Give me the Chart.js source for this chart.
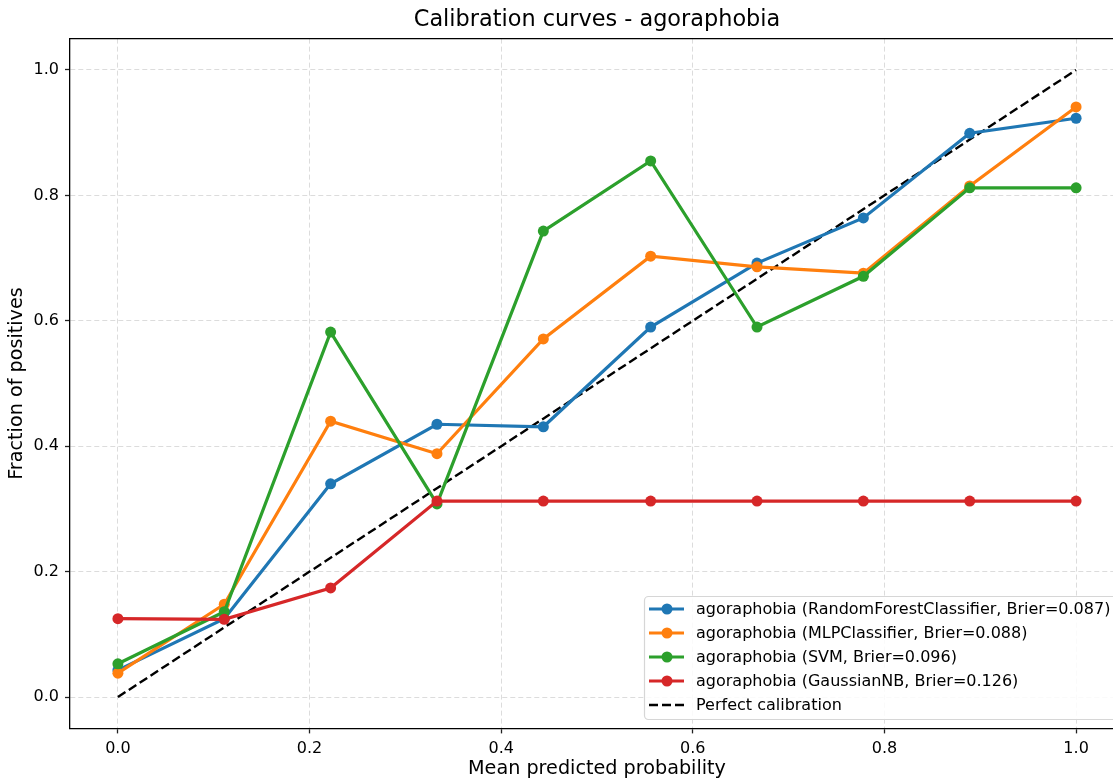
<!DOCTYPE html>
<html>
<head>
<meta charset="utf-8">
<script src="https://cdn.jsdelivr.net/npm/chart.js@4.4.1/dist/chart.umd.min.js"></script>
<style>
    html, body { margin: 0; padding: 0; background: #fff; overflow: hidden; }
    #wrap { position: relative; width: 1113px; height: 781px; overflow: hidden; }
    canvas { position: absolute; left: 0; top: 0; }
</style>
</head>
<body>
<div id="wrap"><canvas id="calChart" width="1180" height="781"></canvas></div>
<script>
// mean predicted probability per bin
const binCenters = [0.0, 0.111, 0.222, 0.333, 0.444, 0.556, 0.667, 0.778, 0.889, 1.0];

// fraction of positives per model
const randomForest = [0.043, 0.125, 0.340, 0.435, 0.431, 0.590, 0.692, 0.764, 0.899, 0.923];
const mlp = [0.038, 0.148, 0.440, 0.388, 0.571, 0.703, 0.686, 0.676, 0.815, 0.941];
const svm = [0.053, 0.136, 0.582, 0.308, 0.743, 0.855, 0.590, 0.671, 0.812, 0.812];
const gaussianNB = [0.125, 0.124, 0.174, 0.3125, 0.3125, 0.3125, 0.3125, 0.3125, 0.3125, 0.3125];

const perfectX = [0.0, 1.0];
const perfectY = [0.0, 1.0];

const xTicks = [0.0, 0.2, 0.4, 0.6, 0.8, 1.0];
const yTicks = [0.0, 0.2, 0.4, 0.6, 0.8, 1.0];

const seriesLabels = [
    'agoraphobia (RandomForestClassifier, Brier=0.087)',
    'agoraphobia (MLPClassifier, Brier=0.088)',
    'agoraphobia (SVM, Brier=0.096)',
    'agoraphobia (GaussianNB, Brier=0.126)',
    'Perfect calibration'
];
const titleText = 'Calibration curves - agoraphobia';

const FONT = '"DejaVu Sans", "Liberation Sans", sans-serif';
const colors = ['#1f77b4', '#ff7f0e', '#2ca02c', '#d62728'];

function pairs(xs, ys) {
    return xs.map((x, i) => ({ x: x, y: ys[i] }));
}

function curve(label, values, color, order) {
    return {
        label: label,
        data: pairs(binCenters, values),
        borderColor: color,
        backgroundColor: color,
        borderWidth: 3.2,
        pointRadius: 5.5,
        pointBorderWidth: 0,
        pointBackgroundColor: color,
        tension: 0,
        order: order
    };
}

// title, top spine and legend box drawn on the canvas
const extras = {
    id: 'extras',
    afterDraw(chart) {
        const ctx = chart.ctx;
        const a = chart.chartArea;
        ctx.save();

        // top spine
        ctx.strokeStyle = '#000';
        ctx.lineWidth = 1.3;
        ctx.beginPath();
        ctx.moveTo(a.left, a.top);
        ctx.lineTo(a.right, a.top);
        ctx.stroke();

        // title
        ctx.fillStyle = '#000';
        ctx.font = '22.4px ' + FONT;
        ctx.textAlign = 'center';
        ctx.textBaseline = 'middle';
        ctx.fillText(titleText, (a.left + a.right) / 2, 20);

        // legend
        const bx = 644, by = 596, bw = 520, bh = 123;
        ctx.fillStyle = 'rgba(255,255,255,0.85)';
        ctx.strokeStyle = '#d6d6d6';
        ctx.lineWidth = 1.2;
        ctx.beginPath();
        ctx.roundRect(bx + 0.5, by + 0.5, bw, bh, 4);
        ctx.fill();
        ctx.stroke();

        const rowY = [609, 633, 657, 681, 705];
        ctx.font = '16px ' + FONT;
        ctx.textAlign = 'left';
        seriesLabels.forEach((lab, i) => {
            const y = rowY[i];
            ctx.lineWidth = i < 4 ? 3.2 : 2.4;
            if (i < 4) {
                ctx.strokeStyle = colors[i];
                ctx.setLineDash([]);
            } else {
                ctx.strokeStyle = '#000';
                ctx.setLineDash([9, 4]);
            }
            ctx.beginPath();
            ctx.moveTo(649, y);
            ctx.lineTo(684, y);
            ctx.stroke();
            ctx.setLineDash([]);
            if (i < 4) {
                ctx.fillStyle = colors[i];
                ctx.beginPath();
                ctx.arc(667, y, 5.5, 0, Math.PI * 2);
                ctx.fill();
            }
            ctx.fillStyle = '#000';
            ctx.fillText(lab, 696, y + 1);
        });
        ctx.restore();
    }
};

const ctx = document.getElementById('calChart').getContext('2d');

const calChart = new Chart(ctx, {
    type: 'line',
    data: {
        datasets: [
            curve(seriesLabels[0], randomForest, colors[0], 4),
            curve(seriesLabels[1], mlp, colors[1], 3),
            curve(seriesLabels[2], svm, colors[2], 2),
            curve(seriesLabels[3], gaussianNB, colors[3], 1),
            {
                label: seriesLabels[4],
                data: pairs(perfectX, perfectY),
                borderColor: '#000',
                borderWidth: 2.4,
                borderDash: [9, 4],
                pointRadius: 0,
                tension: 0,
                order: 5
            }
        ]
    },
    options: {
        responsive: false,
        animation: false,
        layout: { padding: { top: 38.6, right: 56, left: 0, bottom: 0 } },
        plugins: {
            legend: { display: false },
            title: { display: false },
            tooltip: { enabled: false }
        },
        scales: {
            x: {
                type: 'linear',
                min: -0.05,
                max: 1.05,
                afterBuildTicks: (scale) => { scale.ticks = xTicks.map(v => ({ value: v })); },
                afterFit: (scale) => { scale.height = 52.6; },
                ticks: {
                    color: '#000',
                    padding: 6,
                    maxRotation: 0,
                    font: { family: FONT, size: 16 },
                    callback: (v) => Number(v).toFixed(1)
                },
                grid: {
                    color: '#dcdcdc',
                    lineWidth: 1,
                    tickLength: 5,
                    tickColor: '#222',
                    tickWidth: 1.3
                },
                border: { display: true, color: '#000', width: 1.3, dash: [5, 3] },
                title: {
                    display: true,
                    text: 'Mean predicted probability',
                    color: '#000',
                    padding: { top: -2.5, bottom: 0 },
                    font: { family: FONT, size: 19.2 }
                }
            },
            y: {
                type: 'linear',
                min: -0.05,
                max: 1.05,
                afterBuildTicks: (scale) => { scale.ticks = yTicks.map(v => ({ value: v })); },
                afterFit: (scale) => { scale.width = 70; },
                ticks: {
                    color: '#000',
                    padding: 6,
                    font: { family: FONT, size: 16 },
                    callback: (v) => Number(v).toFixed(1)
                },
                grid: {
                    color: '#dcdcdc',
                    lineWidth: 1,
                    tickLength: 5,
                    tickColor: '#222',
                    tickWidth: 1.3
                },
                border: { display: true, color: '#000', width: 1.3, dash: [5, 3] },
                title: {
                    display: true,
                    text: 'Fraction of positives',
                    color: '#000',
                    padding: { top: 5, bottom: 0 },
                    font: { family: FONT, size: 19.2 }
                }
            }
        }
    },
    plugins: [extras]
});
</script>
</body>
</html>
